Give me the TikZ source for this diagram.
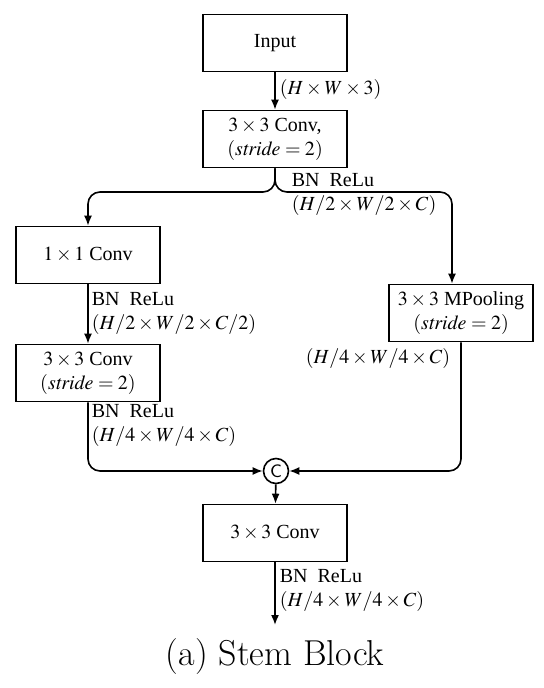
\documentclass[tikz,border=0pt]{standalone}
\usepackage{mathptmx}
\usepackage[no-math]{fontspec}
\setmainfont{Liberation Serif}
\usetikzlibrary{arrows.meta}

\begin{document}
\begin{tikzpicture}[x=0.5pt, y=-0.5pt, line width=0.8pt, >={Latex[length=5pt,width=4pt]},
    block/.style={draw, minimum width=72pt, minimum height=28.5pt, align=center, inner sep=2pt},
    note/.style={align=left, inner sep=1pt}]
    % Page size of the reference
    \useasboundingbox (0,0) rectangle (544,688);

    % Main column
    \node[block] (input) at (275,43) {Input};
    \node[block] (conv1) at (275,139) {$3\times3$ Conv,\\$(\mathit{stride}=2)$};
    \node[draw, circle, inner sep=0pt, minimum size=12.5pt, font=\sffamily\small] (cat) at (276,471) {C};
    \node[block] (conv3) at (275,533) {$3\times3$ Conv};

    % Left branch
    \node[block] (c11) at (88,255) {$1\times1$ Conv};
    \node[block] (c33) at (88,373) {$3\times3$ Conv\\$(\mathit{stride}=2)$};

    % Right branch
    \node[block] (pool) at (461,313) {$3\times3$ MPooling\\$(\mathit{stride}=2)$};

    % Feature map sizes
    \node[note, anchor=west] (s0) at (277,90) {$(H\times W\times 3)$};
    \node[note, anchor=west] (s1) at (289,194) {BN~~ReLu\\$(H/2\times W/2\times C)$};
    \node[note, anchor=west] (s2) at (89,313) {BN~~ReLu\\$(H/2\times W/2\times C/2)$};
    \node[note, anchor=west] (s3) at (89,425) {BN~~ReLu\\$(H/4\times W/4\times C)$};
    \node[note, anchor=east] (s4) at (453,359) {$(H/4\times W/4\times C)$};
    \node[note, anchor=west] (s5) at (277,590) {BN~~ReLu\\$(H/4\times W/4\times C)$};

    % Connections
    \coordinate (split) at (275,192);
    \coordinate (out) at (275,625);
    \draw[->] (input) -- (conv1);
    \draw[->, rounded corners=6pt] (conv1.south) -- (split) -| (c11.north);
    \draw[->, rounded corners=6pt] (conv1.south) -- (split) -| ([xshift=-4.5pt]pool.north);
    \draw[->] (c11) -- (c33);
    \draw[->, rounded corners=6pt] (c33.south) |- (cat.west);
    \draw[->, rounded corners=6pt] (pool.south) |- (cat.east);
    \draw[->] (cat) -- (conv3);
    \draw[->] (conv3) -- (out);

    % Caption
    \node[font=\fontfamily{lmr}\fontsize{18}{21}\selectfont] (cap) at (275,657) {(a) Stem Block};
\end{tikzpicture}
\end{document}
